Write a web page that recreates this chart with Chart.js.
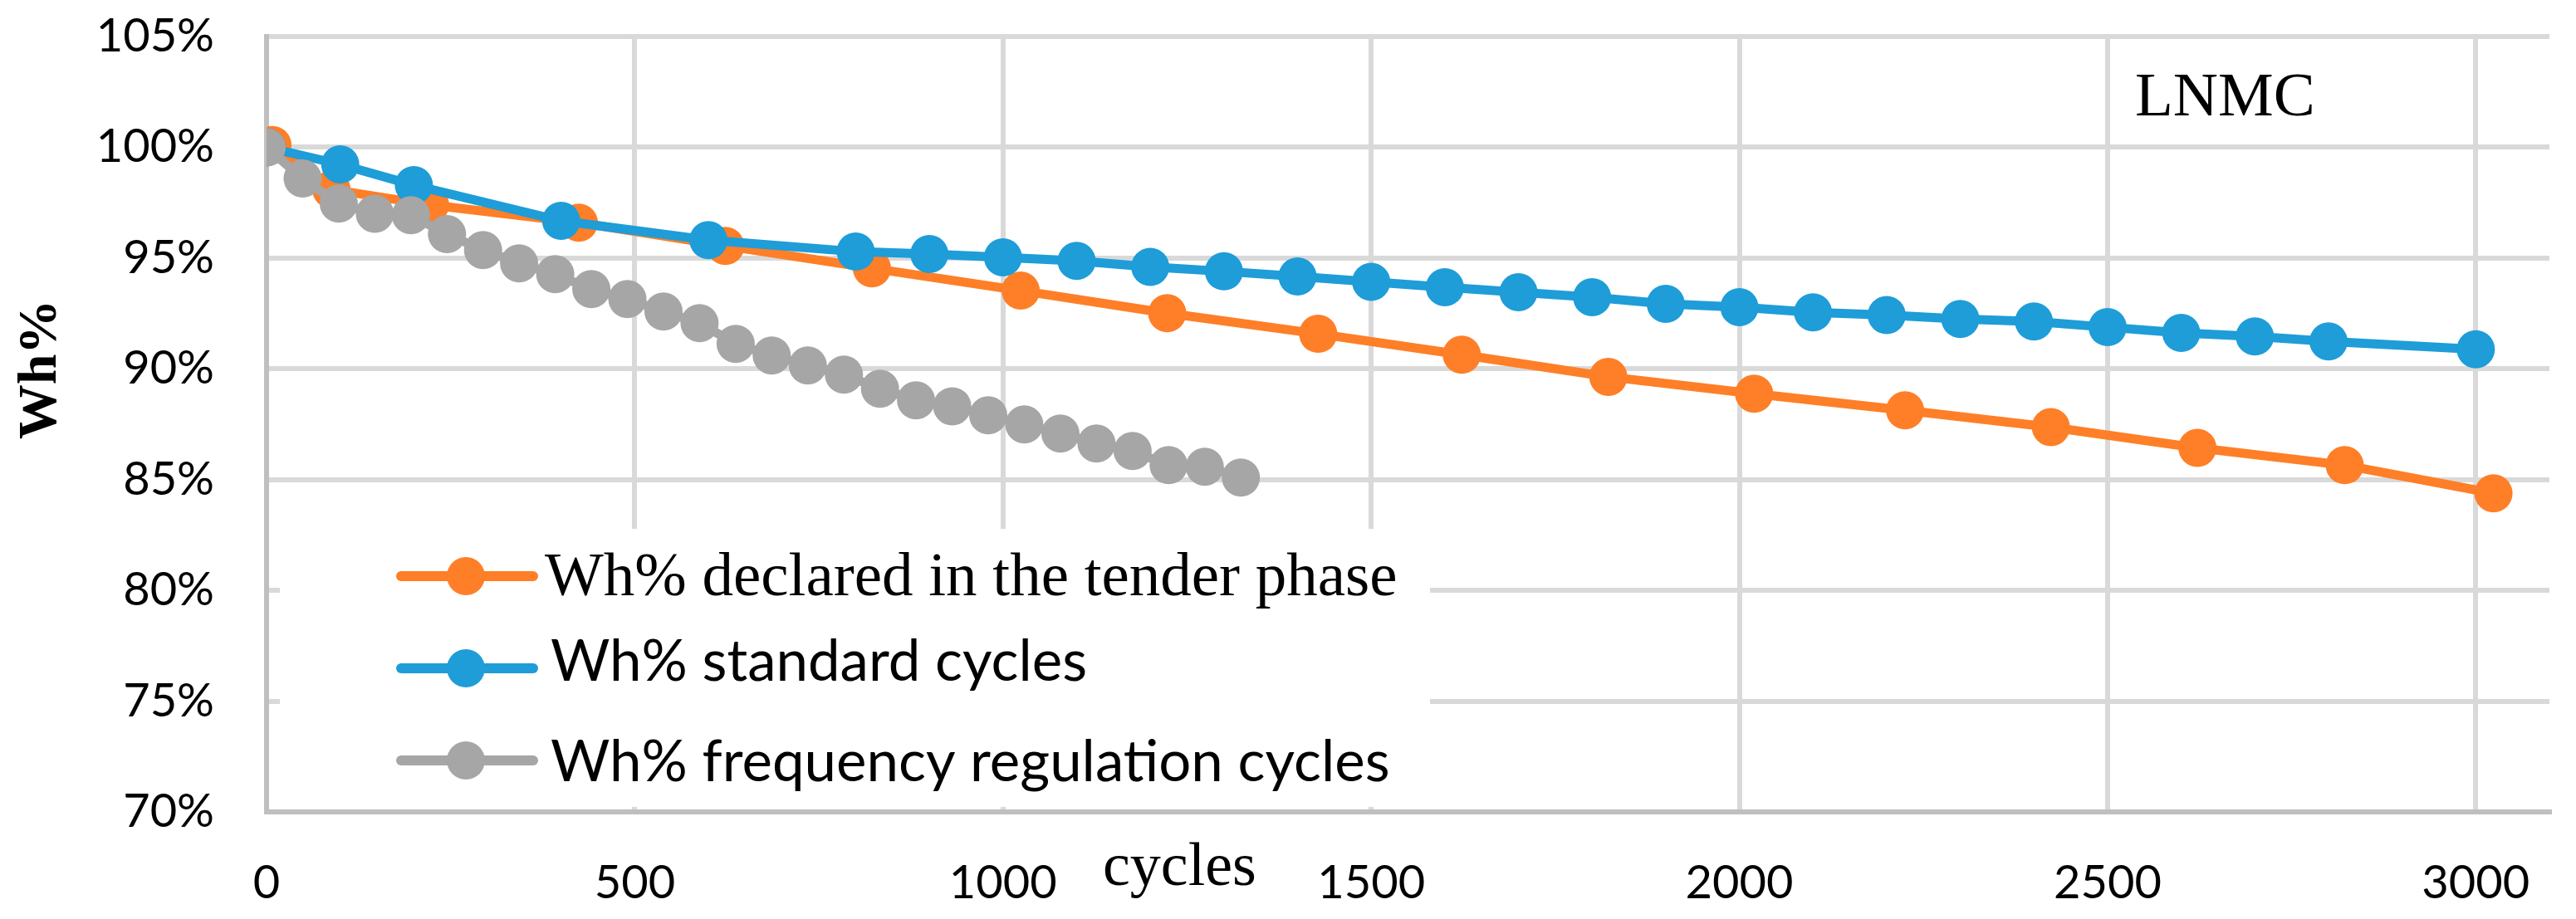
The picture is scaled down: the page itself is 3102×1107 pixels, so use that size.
<!DOCTYPE html>
<html>
<head>
<meta charset="utf-8">
<script src="https://cdn.jsdelivr.net/npm/chart.js@4.4.0/dist/chart.umd.min.js"></script>
<style>
html,body{margin:0;padding:0;background:#fff;}
#wrap{width:3102px;height:1107px;position:relative;}
</style>
</head>
<body>
<div id="wrap"><canvas id="c" width="3102" height="1107"></canvas></div>
<script>
// ---- data ----
const declaredCycles = [8, 88, 222, 424, 623, 822, 1024, 1223, 1428, 1623, 1822, 2020, 2225, 2423, 2622, 2822, 3024];
const declaredWh     = [100.1, 98.1, 97.4, 96.6, 95.55, 94.54, 93.53, 92.51, 91.58, 90.64, 89.64, 88.88, 88.13, 87.37, 86.43, 85.65, 84.38];

const standardCycles = [0, 100, 200, 400, 600, 800, 900, 1000, 1100, 1200, 1300, 1400, 1500, 1600, 1700, 1800, 1900, 2000, 2100, 2200, 2300, 2400, 2500, 2600, 2700, 2800, 3000];
const standardWh     = [100, 99.23, 98.29, 96.68, 95.81, 95.29, 95.18, 95.03, 94.87, 94.6, 94.4, 94.17, 93.93, 93.68, 93.46, 93.23, 92.93, 92.78, 92.55, 92.43, 92.25, 92.14, 91.88, 91.62, 91.46, 91.24, 90.88];

const freqCycles = [0, 49, 98, 147, 196, 245, 294, 343, 392, 441, 490, 539, 588, 637, 686, 735, 784, 833, 882, 931, 980, 1029, 1078, 1127, 1176, 1225, 1274, 1323];
const freqWh     = [100, 98.59, 97.46, 97.0, 96.93, 96.08, 95.36, 94.76, 94.27, 93.6, 93.15, 92.59, 92.06, 91.13, 90.6, 90.15, 89.74, 89.1, 88.58, 88.31, 87.9, 87.49, 87.08, 86.63, 86.29, 85.65, 85.58, 85.09];

const seriesLabels = ['Wh% declared in the tender phase', 'Wh% standard cycles', 'Wh% frequency regulation cycles'];
const seriesColors = ['#FE7F27', '#1E9DD8', '#A6A6A6'];
const legendFonts  = ['75px "Liberation Serif"', '69px Lato', '69px Lato'];
const xTickValues = [0, 500, 1000, 1500, 2000, 2500, 3000];
const yTickValues = [70, 75, 80, 85, 90, 95, 100, 105];
const xAxisTitle = 'cycles';
const yAxisTitle = 'Wh%';
const chartTag = 'LNMC';
const xMin = 0, xMax = 3100;
const yMin = 70, yMax = 105;

function pts(xs, ys){ return xs.map((x,i)=>({x:x, y:ys[i]})); }

const decor = {
  id: 'decor',
  afterDatasetsDraw(chart){
    const ctx = chart.ctx;
    ctx.save();
    // legend background box (inside plot area)
    ctx.fillStyle = '#ffffff';
    ctx.fillRect(337, 637, 1722 - 337, 972 - 637);
    const rows = [
      {y: 694, base: 717, tx: 656},
      {y: 805, base: 820, tx: 663},
      {y: 916, base: 941, tx: 663}
    ];
    rows.forEach((r, i) => {
      ctx.strokeStyle = seriesColors[i];
      ctx.lineWidth = 12;
      ctx.lineCap = 'round';
      ctx.beginPath(); ctx.moveTo(483, r.y); ctx.lineTo(642, r.y); ctx.stroke();
      ctx.fillStyle = seriesColors[i];
      ctx.beginPath(); ctx.arc(561, r.y, 23, 0, Math.PI*2); ctx.fill();
      ctx.fillStyle = '#000';
      ctx.font = legendFonts[i];
      ctx.textAlign = 'left';
      ctx.textBaseline = 'alphabetic';
      ctx.fillText(seriesLabels[i], r.tx, r.base);
    });
    // x axis title
    ctx.font = '74px "Liberation Serif"';
    ctx.fillStyle = '#000';
    ctx.textAlign = 'left';
    ctx.fillText(xAxisTitle, 1328, 1066);
    // series tag
    ctx.font = '75px "Liberation Serif"';
    ctx.fillText(chartTag, 2571, 139);
    // y axis title (rotated)
    ctx.translate(67, 445);
    ctx.rotate(-Math.PI/2);
    ctx.font = 'bold 66px "Liberation Serif"';
    ctx.textAlign = 'center';
    ctx.textBaseline = 'alphabetic';
    ctx.fillText(yAxisTitle, 0, 0);
    ctx.restore();
  }
};

const lineDs = (i, data, order) => ({
  label: seriesLabels[i],
  data: data,
  borderColor: seriesColors[i],
  backgroundColor: seriesColors[i],
  pointBackgroundColor: seriesColors[i],
  pointBorderWidth: 0,
  pointRadius: 23,
  borderWidth: 11,
  tension: 0,
  fill: false,
  order: order
});

new Chart(document.getElementById('c'), {
  type: 'scatter',
  data: {
    datasets: [
      lineDs(0, pts(declaredCycles, declaredWh), 2),
      lineDs(1, pts(standardCycles, standardWh), 1),
      lineDs(2, pts(freqCycles, freqWh), 0)
    ]
  },
  options: {
    responsive: false,
    devicePixelRatio: 1,
    animation: false,
    showLine: true,
    layout: { padding: { top: 44, right: 32, bottom: 0, left: 0 } },
    plugins: { legend: { display: false }, tooltip: { enabled: false } },
    scales: {
      x: {
        type: 'linear',
        min: xMin, max: xMax,
        afterBuildTicks(s){ s.ticks = xTickValues.map(v => ({value: v})); },
        afterFit(s){ s.height = 1107 - 978; s.paddingLeft = 0; s.paddingRight = 0; },
        grid: { color: '#D9D9D9', lineWidth: 6, drawTicks: false },
        border: { color: '#BFBFBF', width: 6 },
        ticks: {
          autoSkip: false, maxRotation: 0,
          padding: 52, color: '#000', font: { family: 'Lato', size: 56 },
          callback: v => String(v)
        }
      },
      y: {
        type: 'linear',
        min: yMin, max: yMax,
        afterBuildTicks(s){ s.ticks = yTickValues.map(v => ({value: v})); },
        afterFit(s){ s.width = 321; s.paddingTop = 0; s.paddingBottom = 0; },
        grid: { color: '#D9D9D9', lineWidth: 6, drawTicks: false },
        border: { color: '#BFBFBF', width: 6 },
        ticks: {
          padding: 63, color: '#000', font: { family: 'Lato', size: 56 },
          callback: v => v + '%'
        }
      }
    }
  },
  plugins: [decor]
});
</script>
</body>
</html>
